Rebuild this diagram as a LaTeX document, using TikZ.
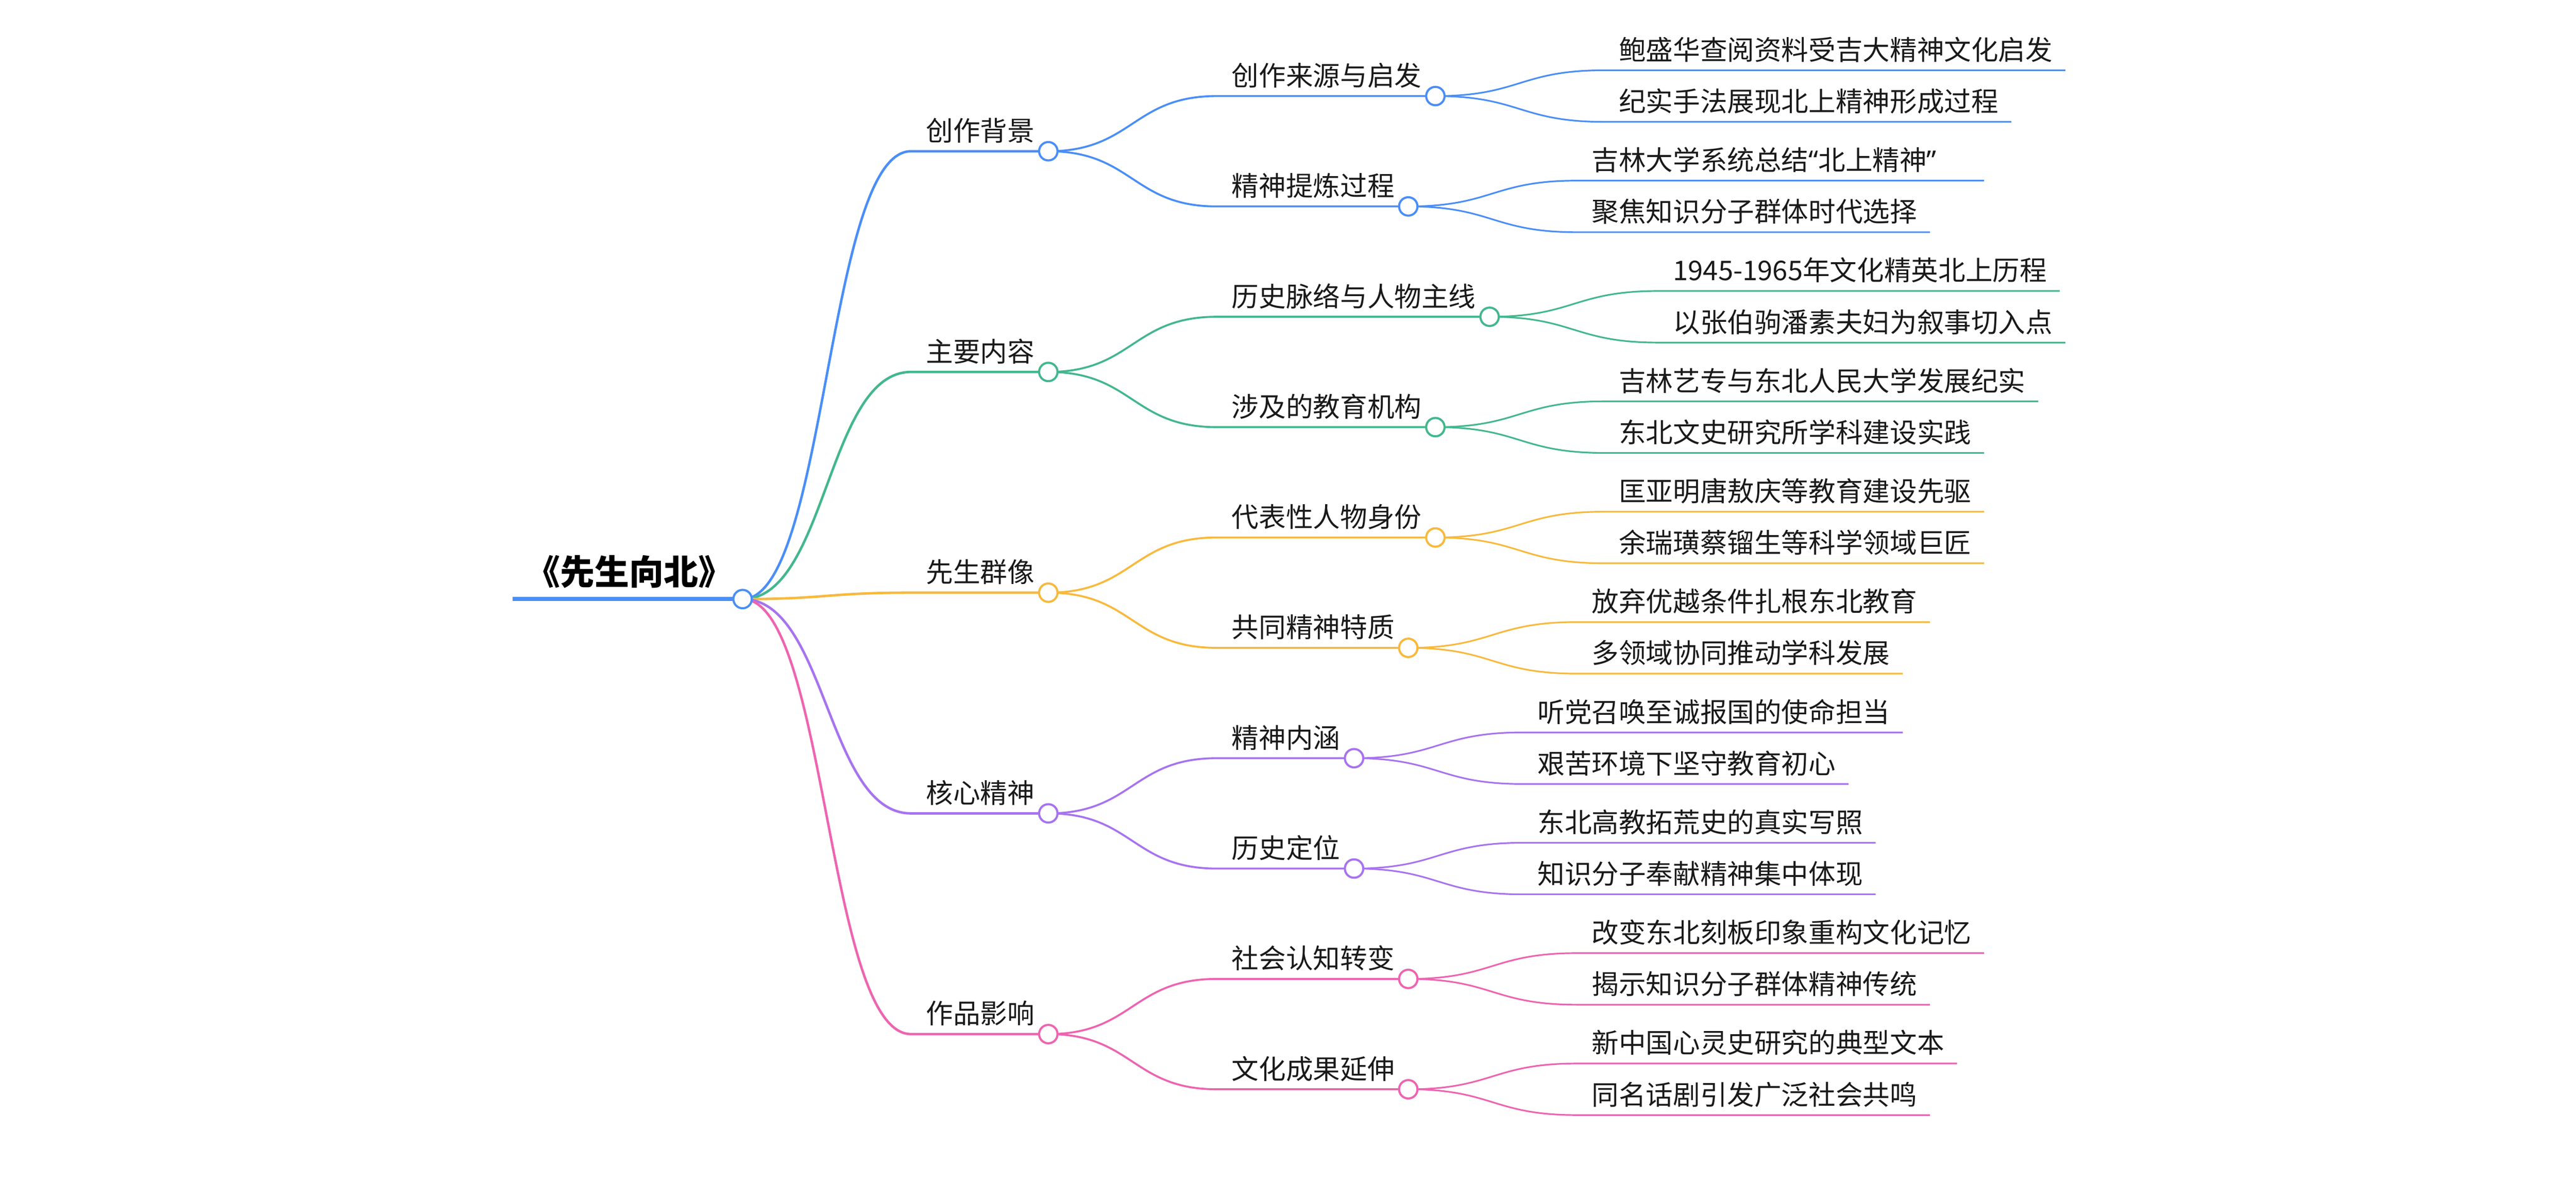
\documentclass[tikz,border=0pt]{standalone}
\usepackage{fontspec}
\setmainfont{Noto Sans CJK SC}
\newfontfamily\qfont{Noto Sans}
\usetikzlibrary{calc}
\definecolor{cB}{HTML}{4A8EF7}
\definecolor{cG}{HTML}{43B78D}
\definecolor{cY}{HTML}{F8B93C}
\definecolor{cP}{HTML}{A773F0}
\definecolor{cK}{HTML}{EE64B0}
\definecolor{txtc}{HTML}{1A1A1A}
\pgfdeclarelayer{fg}
\pgfsetlayers{main,fg}
\tikzset{
  txt/.style={font=\fontsize{16.5}{18}\selectfont, text=txtc, inner sep=0pt},
  roottxt/.style={font=\fontsize{21}{24}\selectfont\bfseries, text=black, inner sep=0pt},
  dot/.style={circle, fill=white, line width=1.3pt, minimum size=11.2pt, inner sep=0pt},
  w0/.style={line width=2.4pt},
  w1/.style={line width=1.5pt},
  w2/.style={line width=1.2pt},
  w3/.style={line width=1pt},
}
% branch node: name, colour, width style, dx, dy, text, parent
\newcommand\mmNode[7]{%
  \path (#7c) ++(#4,#5) coordinate (#1s);
  \node[txt, anchor=base west] (#1) at ($(#1s)+(9,-6.3)$) {#6};
  \path (#1s -| #1.east) ++(8.2,0) coordinate (#1c);
  \draw[#2,#3] (#7c) .. controls +(0.5*#4,0) and +(-0.5*#4,0) .. (#1s) -- (#1c);
  \begin{pgfonlayer}{fg}\node[dot, draw=#2] (#1d) at (#1c) {};\end{pgfonlayer}
}
% leaf node: name, colour, dy, text, parent
\newcommand\mmLeaf[5]{%
  \path (#5c) ++(102.5,#3) coordinate (#1s);
  \node[txt, anchor=base west] (#1) at ($(#1s)+(9,-6.3)$) {#4};
  \draw[#2,w3] (#5c) .. controls +(51.25,0) and +(-51.25,0) .. (#1s) -- (#1s -| #1.east) -- ++(7.6,0);
}
\begin{document}
\begin{tikzpicture}[x=1pt,y=-1pt]
\useasboundingbox (0,0) rectangle (1568,721.5);
\coordinate (roots) at (312,364.8);
\coordinate (rootc) at (452,364.8);
\node[roottxt, anchor=base] (root) at (383,356.2) {《先生向北》};
\draw[cB,w0] (roots) -- (rootc);
\begin{pgfonlayer}{fg}\node[dot, draw=cB] (rootd) at (rootc) {};\end{pgfonlayer}

% 创作背景
\mmNode{a}{cB}{w1}{102.5}{-272.7}{创作背景}{root}
\mmNode{aa}{cB}{w2}{102.5}{-33.6}{创作来源与启发}{a}
\mmLeaf{aaa}{cB}{-15.7}{鲍盛华查阅资料受吉大精神文化启发}{aa}
\mmLeaf{aab}{cB}{15.7}{纪实手法展现北上精神形成过程}{aa}
\mmNode{ab}{cB}{w2}{102.5}{33.6}{精神提炼过程}{a}
\mmLeaf{aba}{cB}{-15.7}{\makebox[14em][l]{吉林大学系统总结{\qfont “}北上精神{\qfont ”}}}{ab}
\mmLeaf{abb}{cB}{15.7}{聚焦知识分子群体时代选择}{ab}

% 主要内容
\mmNode{b}{cG}{w1}{102.5}{-138.3}{主要内容}{root}
\mmNode{ba}{cG}{w2}{102.5}{-33.6}{历史脉络与人物主线}{b}
\mmLeaf{baa}{cG}{-15.7}{1945-1965年文化精英北上历程}{ba}
\mmLeaf{bab}{cG}{15.7}{以张伯驹潘素夫妇为叙事切入点}{ba}
\mmNode{bb}{cG}{w2}{102.5}{33.6}{涉及的教育机构}{b}
\mmLeaf{bba}{cG}{-15.7}{吉林艺专与东北人民大学发展纪实}{bb}
\mmLeaf{bbb}{cG}{15.7}{东北文史研究所学科建设实践}{bb}

% 先生群像
\mmNode{c}{cY}{w1}{102.5}{-3.9}{先生群像}{root}
\mmNode{ca}{cY}{w2}{102.5}{-33.6}{代表性人物身份}{c}
\mmLeaf{caa}{cY}{-15.7}{匡亚明唐敖庆等教育建设先驱}{ca}
\mmLeaf{cab}{cY}{15.7}{余瑞璜蔡镏生等科学领域巨匠}{ca}
\mmNode{cb}{cY}{w2}{102.5}{33.6}{共同精神特质}{c}
\mmLeaf{cba}{cY}{-15.7}{放弃优越条件扎根东北教育}{cb}
\mmLeaf{cbb}{cY}{15.7}{多领域协同推动学科发展}{cb}

% 核心精神
\mmNode{d}{cP}{w1}{102.5}{130.5}{核心精神}{root}
\mmNode{da}{cP}{w2}{102.5}{-33.6}{精神内涵}{d}
\mmLeaf{daa}{cP}{-15.7}{听党召唤至诚报国的使命担当}{da}
\mmLeaf{dab}{cP}{15.7}{艰苦环境下坚守教育初心}{da}
\mmNode{db}{cP}{w2}{102.5}{33.6}{历史定位}{d}
\mmLeaf{dba}{cP}{-15.7}{东北高教拓荒史的真实写照}{db}
\mmLeaf{dbb}{cP}{15.7}{知识分子奉献精神集中体现}{db}

% 作品影响
\mmNode{e}{cK}{w1}{102.5}{264.9}{作品影响}{root}
\mmNode{ea}{cK}{w2}{102.5}{-33.6}{社会认知转变}{e}
\mmLeaf{eaa}{cK}{-15.7}{改变东北刻板印象重构文化记忆}{ea}
\mmLeaf{eab}{cK}{15.7}{揭示知识分子群体精神传统}{ea}
\mmNode{eb}{cK}{w2}{102.5}{33.6}{文化成果延伸}{e}
\mmLeaf{eba}{cK}{-15.7}{新中国心灵史研究的典型文本}{eb}
\mmLeaf{ebb}{cK}{15.7}{同名话剧引发广泛社会共鸣}{eb}
\end{tikzpicture}
\end{document}
